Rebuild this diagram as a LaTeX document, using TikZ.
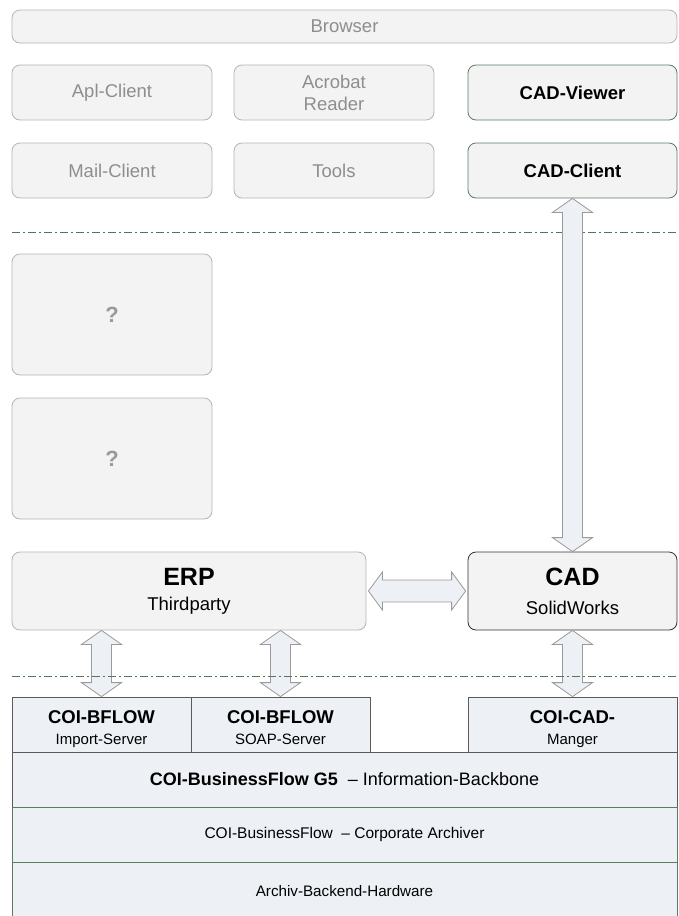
\documentclass[tikz,border=0pt]{standalone}
\usepackage{fontspec}
\setmainfont{Liberation Sans}
\usetikzlibrary{calc}
\definecolor{boxfill}{HTML}{F3F3F3}
\definecolor{boxline}{HTML}{B5B5B5}
\definecolor{greytext}{HTML}{8E8E8E}
\definecolor{greenline}{HTML}{5A7D62}
\definecolor{dashgreen}{HTML}{4D7A5A}
\definecolor{layerfill}{HTML}{EDF0F5}
\definecolor{layerline}{HTML}{5A5A5A}
\definecolor{arrowline}{HTML}{9A9A9A}
\tikzset{
  gbox/.style={draw=boxline, fill=boxfill, rounded corners=8pt, line width=0.8pt,
    text=greytext, align=center, inner sep=0pt,
    font=\fontsize{18.5}{22}\selectfont},
  cbox/.style={gbox, draw=greenline, text=black, font=\fontsize{18.5}{22}\selectfont\bfseries},
  qbox/.style={gbox, text=greytext!90, font=\fontsize{22}{26}\selectfont\bfseries},
  bigbox/.style={gbox, text=black},
  layer/.style={draw=layerline, fill=layerfill, line width=0.8pt, inner sep=0pt, align=center},
  glayer/.style={layer, draw=greenline},
  twoline/.style={layer, font=\fontsize{15}{20.5}\selectfont},
  fat/.style={draw=arrowline, fill=layerfill, line width=0.8pt, line join=miter},
  sep/.style={draw=dashgreen, line width=0.8pt, dash pattern=on 8pt off 3pt on 2pt off 3pt}
}
\newcommand{\vfatarrow}[2]{%
  \path[fat] let \p1=(#1), \p2=(#2) in
    (\x1,\y1) -- (\x1+20pt,\y1-14pt) -- (\x1+10pt,\y1-14pt) -- (\x1+10pt,\y2+14pt)
    -- (\x1+20pt,\y2+14pt) -- (\x1,\y2) -- (\x1-20pt,\y2+14pt) -- (\x1-10pt,\y2+14pt)
    -- (\x1-10pt,\y1-14pt) -- (\x1-20pt,\y1-14pt) -- cycle;}
\newcommand{\hfatarrow}[2]{%
  \path[fat] let \p1=(#1), \p2=(#2) in
    (\x1+2pt,\y1) -- (\x1+16pt,\y1+19pt) -- (\x1+16pt,\y1+11pt) -- (\x2-16pt,\y1+11pt)
    -- (\x2-16pt,\y1+19pt) -- (\x2-2pt,\y1) -- (\x2-16pt,\y1-19pt) -- (\x2-16pt,\y1-11pt)
    -- (\x1+16pt,\y1-11pt) -- (\x1+16pt,\y1-19pt) -- cycle;}
\newcommand{\lowline}[1]{#1\vphantom{gp}}
\newcommand{\topline}[1]{\rule{0pt}{22pt}{\fontsize{18.5}{21}\selectfont\bfseries #1}}
\begin{document}
\begin{tikzpicture}[x=1pt,y=-1pt]
\clip (0,0) rectangle (678,916);
\fill[white] (0,0) rectangle (678,916);
% top row
\node[gbox, minimum width=665pt, minimum height=33pt] (browser) at (344.5,26.5) {Browser};
\node[gbox, minimum width=200pt, minimum height=55pt] (apl) at (112,92.5) {Apl-Client};
\node[gbox, minimum width=200pt, minimum height=55pt] (acro) at (334,92.5) {Acrobat\\Reader};
\node[cbox, minimum width=209pt, minimum height=55pt] (viewer) at (572.5,92.5) {CAD-Viewer};
\node[gbox, minimum width=200pt, minimum height=55pt] (mail) at (112,170.5) {Mail-Client};
\node[gbox, minimum width=200pt, minimum height=55pt] (tools) at (334,170.5) {Tools};
\node[cbox, minimum width=209pt, minimum height=55pt] (client) at (572.5,170.5) {CAD-Client};
% separators
\coordinate (s1a) at (12,232); \coordinate (s1b) at (678,232);
\coordinate (s2a) at (12,676); \coordinate (s2b) at (678,676);
\draw[sep] (s1a) -- (s1b);
% question boxes
\node[qbox, minimum width=200pt, minimum height=121pt] (q1) at (112,314.5) {?};
\node[qbox, minimum width=200pt, minimum height=121pt] (q2) at (112,458.5) {?};
% ERP / CAD
\node[bigbox, minimum width=354pt, minimum height=78pt] (erp) at (189,591)
  {{\fontsize{25}{25}\selectfont\bfseries ERP}\\[3pt]Thirdparty};
\node[bigbox, draw=black!80, minimum width=209pt, minimum height=78pt] (cad) at (572.5,591)
  {{\fontsize{25}{25}\selectfont\bfseries CAD}\\[7pt]SolidWorks};
% bottom layers
\node[twoline, minimum width=179pt, minimum height=55pt] (imp) at (101.5,724.5)
  {\topline{COI-BFLOW}\\\lowline{Import-Server}};
\node[twoline, minimum width=179pt, minimum height=55pt] (soap) at (280.5,724.5)
  {\topline{COI-BFLOW}\\\lowline{SOAP-Server}};
\node[twoline, minimum width=209pt, minimum height=55pt] (mgr) at (572.5,724.5)
  {\topline{COI-CAD-}\\\lowline{Manger}};
\node[layer, minimum width=665pt, minimum height=55pt, font=\fontsize{18}{22}\selectfont] (bb) at (344.5,779.5)
  {\textbf{COI-BusinessFlow G5}\ \ – Information-Backbone};
\node[glayer, minimum width=665pt, minimum height=55pt, font=\fontsize{15.5}{18}\selectfont] (arch) at (344.5,834.5)
  {COI-BusinessFlow\ \ – Corporate Archiver};
\node[glayer, minimum width=665pt, minimum height=58pt, font=\fontsize{15.2}{18}\selectfont] (hw) at (344.5,891)
  {Archiv-Backend-Hardware};
% arrows
\vfatarrow{client.south}{cad.north}
\hfatarrow{erp.east}{cad.west}
\vfatarrow{imp.north |- erp.south}{imp.north}
\vfatarrow{soap.north |- erp.south}{soap.north}
\vfatarrow{cad.south}{mgr.north}
\draw[sep] (s2a) -- (s2b);
\end{tikzpicture}
\end{document}
